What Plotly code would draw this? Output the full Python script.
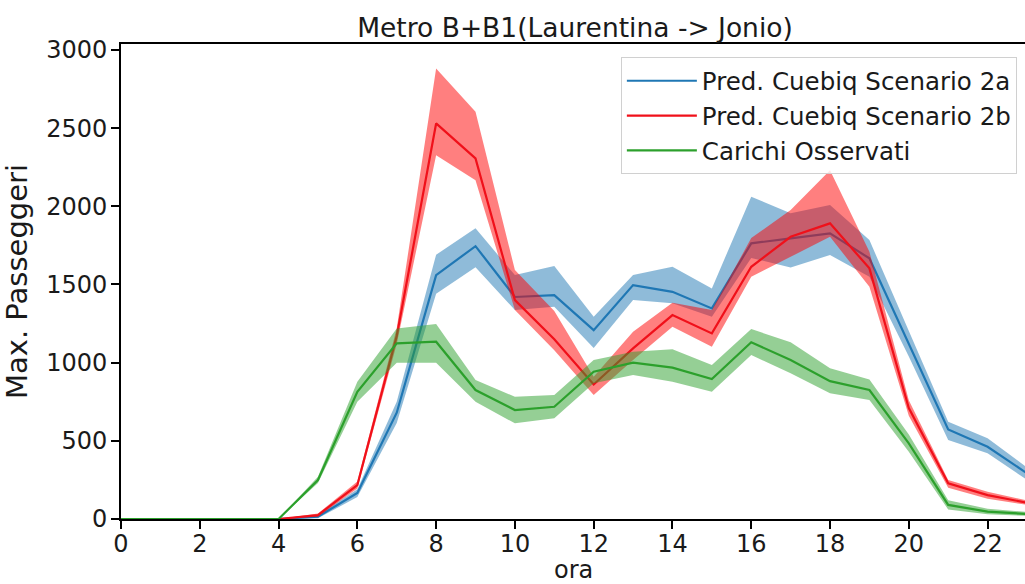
import plotly.graph_objects as go

# ore del giorno
ore = list(range(24))

# Pred. Cuebiq Scenario 2a
blu_media = [0, 0, 0, 0, 0, 15, 166, 680, 1560, 1745, 1420, 1432, 1208, 1496, 1453, 1347, 1763, 1795, 1827, 1667, 1120, 573, 462, 292]
blu_min = [0, 0, 0, 0, 0, 5, 140, 614, 1440, 1610, 1336, 1357, 1093, 1400, 1380, 1294, 1669, 1609, 1688, 1549, 1040, 505, 420, 250]
blu_max = [0, 0, 0, 0, 0, 25, 190, 750, 1690, 1859, 1560, 1618, 1294, 1560, 1613, 1475, 2061, 1956, 2008, 1784, 1200, 622, 516, 330]

# Pred. Cuebiq Scenario 2b
rosso_media = [0, 0, 0, 0, 0, 25, 217, 1170, 2530, 2306, 1400, 1150, 860, 1091, 1304, 1187, 1613, 1805, 1891, 1603, 710, 228, 153, 104]
rosso_min = [0, 0, 0, 0, 0, 15, 195, 1120, 2327, 2167, 1336, 1080, 793, 1017, 1230, 1102, 1549, 1677, 1805, 1485, 660, 200, 130, 90]
rosso_max = [0, 0, 0, 0, 0, 35, 240, 1220, 2882, 2604, 1592, 1330, 910, 1198, 1383, 1336, 1797, 1976, 2231, 1709, 760, 250, 175, 118]

# Carichi Osservati
verde_media = [0, 0, 0, 0, 0, 249, 814, 1123, 1134, 825, 697, 718, 942, 1000, 968, 895, 1130, 1017, 882, 825, 484, 90, 47, 32]
verde_min = [0, 0, 0, 0, 0, 230, 750, 1000, 1000, 750, 612, 644, 868, 921, 878, 814, 1049, 932, 804, 761, 430, 60, 30, 20]
verde_max = [0, 0, 0, 0, 0, 270, 878, 1219, 1247, 889, 782, 793, 1017, 1070, 1085, 985, 1215, 1130, 964, 893, 540, 120, 65, 45]

serie = [
    ("Pred. Cuebiq Scenario 2a", blu_media, blu_min, blu_max, "#1f77b4", "rgba(31,119,180,0.5)"),
    ("Pred. Cuebiq Scenario 2b", rosso_media, rosso_min, rosso_max, "#f0101a", "rgba(255,0,0,0.5)"),
    ("Carichi Osservati", verde_media, verde_min, verde_max, "#2ca02c", "rgba(44,160,44,0.5)"),
]

fig = go.Figure()

for nome, media, lo, hi, col, fillcol in serie:
    # banda di incertezza
    fig.add_trace(go.Scatter(x=ore, y=lo, mode="lines", line=dict(width=0),
                             showlegend=False, hoverinfo="skip", legendgroup=nome))
    fig.add_trace(go.Scatter(x=ore, y=hi, mode="lines", line=dict(width=0),
                             fill="tonexty", fillcolor=fillcol,
                             showlegend=False, hoverinfo="skip", legendgroup=nome))
    # linea media
    fig.add_trace(go.Scatter(x=ore, y=media, mode="lines", name=nome,
                             line=dict(color=col, width=2.2), legendgroup=nome))

font = "DejaVu Sans"
fig.update_layout(
    width=1025, height=584,
    margin=dict(l=121, r=0, t=44, b=65),
    plot_bgcolor="white", paper_bgcolor="white",
    font=dict(family=font, size=24, color="#1a1a1a"),
    title=dict(text="Metro B+B1(Laurentina -> Jonio)", x=0.561, xanchor="center",
               y=1 - 28 / 584, yanchor="middle", yref="container",
               font=dict(size=26.5)),
    xaxis=dict(range=[0, 22.95], tickvals=list(range(0, 24, 2)),
               showline=True, linecolor="black", linewidth=1.6, mirror=True,
               ticks="outside", ticklen=8, tickwidth=1.5, tickcolor="black",
               ticklabelstandoff=-6,
               showgrid=False, zeroline=False, layer="above traces", automargin=False),
    yaxis=dict(range=[0, 3038], tickvals=[0, 500, 1000, 1500, 2000, 2500, 3000],
               showline=True, linecolor="black", linewidth=1.6,
               ticks="outside", ticklen=8, tickwidth=1.5, tickcolor="black",
               ticklabelstandoff=-1,
               showgrid=False, zeroline=False, layer="above traces", automargin=False,
               title=dict(text="Max. Passeggeri", standoff=10)),
    legend=dict(x=0.991, xanchor="right", y=0.972, yanchor="top",
                bgcolor="rgba(255,255,255,0.8)", bordercolor="#d0d0d0", borderwidth=1,
                font=dict(size=24.5), tracegroupgap=5, traceorder="normal", itemwidth=70),
)

# titolo asse x, in basso come nell'originale
fig.add_annotation(text="ora", xref="paper", yref="paper", x=0.5, y=-0.108,
                   xanchor="center", yanchor="middle", showarrow=False,
                   font=dict(size=24))

# niente margine della pagina attorno al grafico
fig.write_html("out.html", config={"displayModeBar": False},
               post_script="document.body.style.margin='0';document.body.style.overflow='hidden';")
